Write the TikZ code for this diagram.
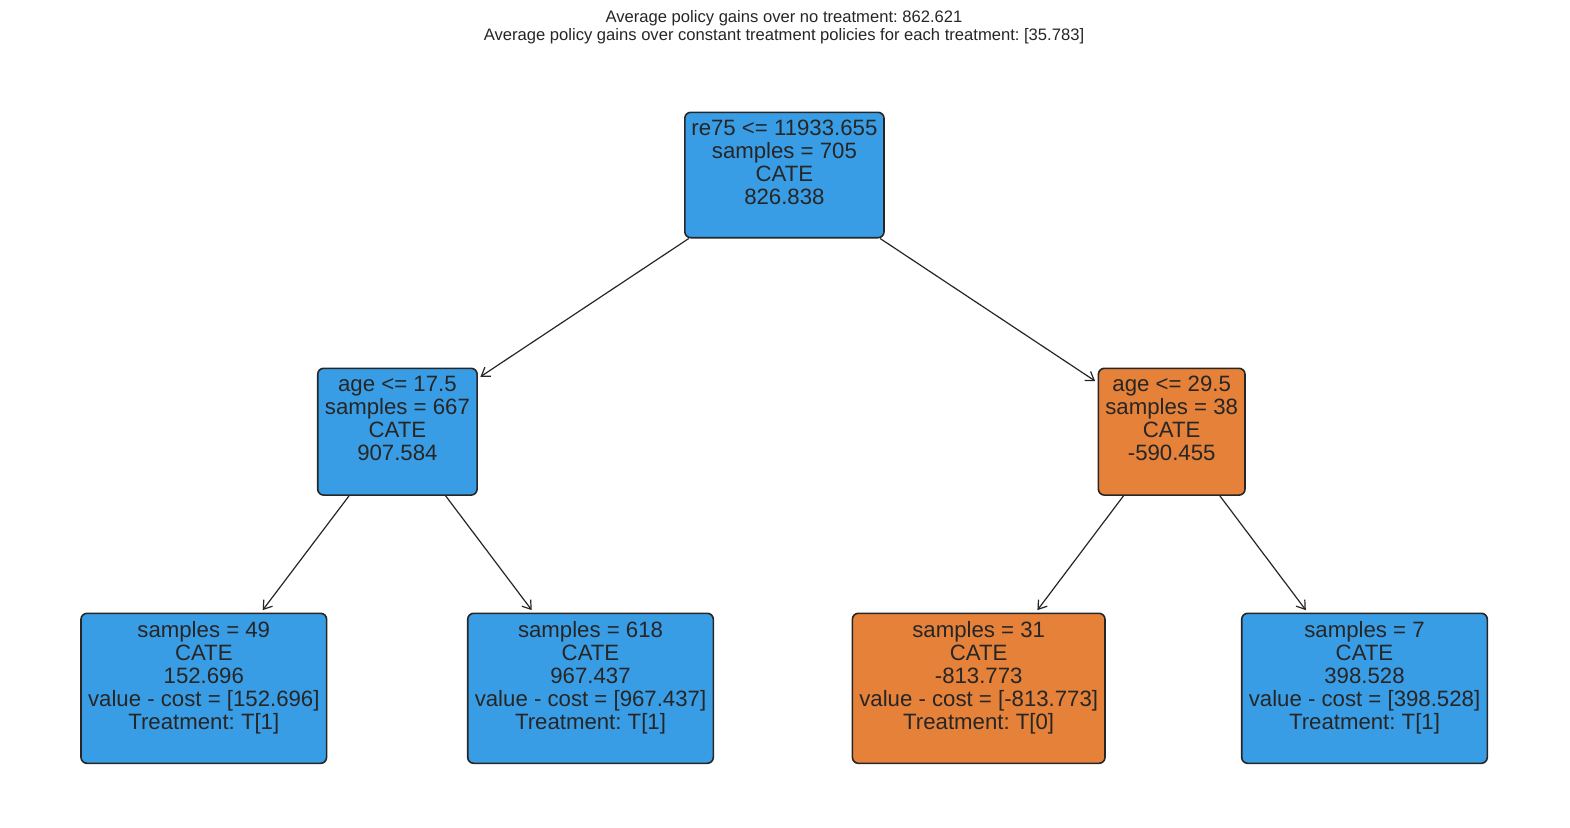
\documentclass[tikz,border=0pt]{standalone}
\usepackage{fontspec}
\setmainfont{Liberation Sans}
\frenchspacing
\usepackage{tikz}
\usetikzlibrary{positioning, arrows.meta}
\definecolor{treeblue}{HTML}{399DE5}
\definecolor{treeorange}{HTML}{E58139}
\definecolor{ink}{HTML}{262626}
\tikzstyle{split} = [rectangle, rounded corners=3pt, draw=ink, line width=0.8pt, inner sep=0pt]
\tikzstyle{bluebox} = [split, fill=treeblue]
\tikzstyle{orangebox} = [split, fill=treeorange]
\tikzstyle{boxtext} = [align=center, inner sep=0pt, text=ink, font=\fontsize{11.1}{11.5}\selectfont]
\tikzstyle{heading} = [align=center, inner sep=0pt, text=ink, font=\fontsize{8.3}{9}\selectfont]
\tikzstyle{arrow} = [-{Straight Barb[length=4pt,width=5.5pt]}, draw=ink, line width=0.6pt, shorten >=1.5pt]

\begin{document}
\begin{tikzpicture}[x=0.5pt, y=-0.5pt]
	\useasboundingbox (0,0) rectangle (1570,827);
	\node (title) [heading, anchor=north] at (784,10) {Average policy gains over no treatment: 862.621\\Average policy gains over constant treatment policies for each treatment: [35.783]};
	
	% splits
	\node (root) [bluebox, minimum width=99.6pt, minimum height=62.7pt] at (784.4,175) {};
	\node (rootText) [boxtext, below=4pt of root.north] {re75 <= 11933.655\\samples = 705\\CATE\\826.838};
	\node (young) [bluebox, minimum width=79.7pt, minimum height=63.4pt] at (397.4,431.7) {};
	\node (youngText) [boxtext, below=4pt of young.north] {age <= 17.5\\samples = 667\\CATE\\907.584};
	\node (rich) [orangebox, minimum width=73.3pt, minimum height=63.4pt] at (1171.7,431.7) {};
	\node (richText) [boxtext, below=4pt of rich.north] {age <= 29.5\\samples = 38\\CATE\\-590.455};
	
	% leaves
	\node (leafA) [bluebox, minimum width=122.8pt, minimum height=75pt] at (203.8,688.3) {};
	\node (leafAText) [boxtext, below=4pt of leafA.north] {samples = 49\\CATE\\152.696\\value - cost = [152.696]\\Treatment: T[1]};
	\node (leafB) [bluebox, minimum width=122.8pt, minimum height=75pt] at (590.5,688.3) {};
	\node (leafBText) [boxtext, below=4pt of leafB.north] {samples = 618\\CATE\\967.437\\value - cost = [967.437]\\Treatment: T[1]};
	\node (leafC) [orangebox, minimum width=126.3pt, minimum height=75pt] at (978.7,688.3) {};
	\node (leafCText) [boxtext, below=4pt of leafC.north] {samples = 31\\CATE\\-813.773\\value - cost = [-813.773]\\Treatment: T[0]};
	\node (leafD) [bluebox, minimum width=122.8pt, minimum height=75pt] at (1364.5,688.3) {};
	\node (leafDText) [boxtext, below=4pt of leafD.north] {samples = 7\\CATE\\398.528\\value - cost = [398.528]\\Treatment: T[1]};
	
	\draw [arrow](root) -- (young);
	\draw [arrow](root) -- (rich);
	\draw [arrow](young) -- (leafA);
	\draw [arrow](young) -- (leafB);
	\draw [arrow](rich) -- (leafC);
	\draw [arrow](rich) -- (leafD);
\end{tikzpicture}
\end{document}
